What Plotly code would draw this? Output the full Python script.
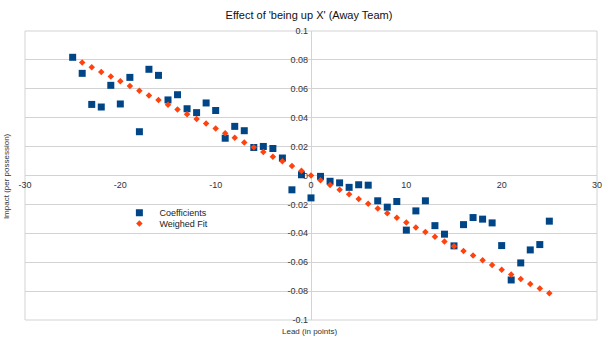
import plotly.graph_objects as go

# Lead (points) and fitted coefficient for each lead value
lead = list(range(-25, 26))
coefficients = [
    0.0818, 0.0707, 0.0492, 0.0474, 0.0624, 0.0495, 0.0679, 0.0303, 0.0735, 0.0693,
    0.0523, 0.0559, 0.0462, 0.0435, 0.0502, 0.0450, 0.0258, 0.0340, 0.0310, 0.0194,
    0.0201, 0.0187, 0.0121, -0.0099, 0.0005, -0.0155, -0.0006, -0.0040, -0.0051, -0.0082,
    -0.0064, -0.0067, -0.0175, -0.0219, -0.0180, -0.0378, -0.0245, -0.0175, -0.0347, -0.0406,
    -0.0487, -0.0340, -0.0291, -0.0302, -0.0328, -0.0485, -0.0723, -0.0605, -0.0515, -0.0478,
    -0.0316,
]

fit_lead = list(range(-24, 26))
weighed_fit = [
    0.0782, 0.0750, 0.0717, 0.0685, 0.0652, 0.0619, 0.0587, 0.0554, 0.0522, 0.0489,
    0.0456, 0.0424, 0.0391, 0.0359, 0.0326, 0.0293, 0.0261, 0.0228, 0.0196, 0.0163,
    0.0130, 0.0098, 0.0065, 0.0033, 0.0000, -0.0033, -0.0065, -0.0098, -0.0130, -0.0163,
    -0.0196, -0.0228, -0.0261, -0.0293, -0.0326, -0.0359, -0.0391, -0.0424, -0.0456, -0.0489,
    -0.0522, -0.0554, -0.0587, -0.0619, -0.0652, -0.0685, -0.0717, -0.0750, -0.0782, -0.0815,
]

x_ticks = [-30, -20, -10, 0, 10, 20, 30]
x_tick_labels = ["-30", "-20", "-10", "0", "10", "20", "30"]
y_ticks = [0.1, 0.08, 0.06, 0.04, 0.02, 0, -0.02, -0.04, -0.06, -0.08, -0.1]
y_tick_labels = ["0.1", "0.08", "0.06", "0.04", "0.02", "0",
                 "-0.02", "-0.04", "-0.06", "-0.08", "-0.1"]

FONT = "Liberation Sans, Arial, sans-serif"
GRID = "#d3d3d3"
BLUE = "#004586"
ORANGE = "#ff420e"

fig = go.Figure()
fig.add_trace(go.Scatter(
    x=lead, y=coefficients, mode="markers", name="Coefficients",
    marker=dict(symbol="square", size=7, color=BLUE),
    legend="legend",
))
fig.add_trace(go.Scatter(
    x=fit_lead, y=weighed_fit, mode="markers", name="Weighed Fit",
    marker=dict(symbol="diamond", size=5, color=ORANGE),
    legend="legend2",
))

legend_style = dict(
    font=dict(family=FONT, size=9, color="#222"),
    bgcolor="rgba(0,0,0,0)", borderwidth=0,
    xanchor="left", yanchor="middle", itemwidth=30,
)

fig.update_layout(
    width=614, height=337, autosize=False,
    margin=dict(l=25, r=14, t=31, b=17, pad=0),
    paper_bgcolor="white", plot_bgcolor="white",
    font=dict(family=FONT, size=9, color="#333"),
    title=dict(
        text="Effect of 'being up X' (Away Team)",
        x=309 / 614, xanchor="center", xref="container",
        y=1 - 15 / 337, yanchor="middle", yref="container",
        font=dict(family=FONT, size=11, color="#111"),
    ),
    xaxis=dict(
        range=[-30, 30], tickvals=x_ticks, ticktext=x_tick_labels,
        anchor="free", position=0.5, showgrid=False,
        zeroline=True, zerolinecolor=GRID, zerolinewidth=1,
        showline=False, ticks="", ticklabelstandoff=2,
        tickfont=dict(size=9, color="#333"),
    ),
    yaxis=dict(
        range=[-0.1, 0.1], tickvals=y_ticks, ticktext=y_tick_labels,
        anchor="free", position=0.5, showgrid=True, gridcolor=GRID, gridwidth=1,
        zeroline=True, zerolinecolor=GRID, zerolinewidth=1,
        showline=False, ticks="", ticklabelstandoff=3,
        tickfont=dict(size=9, color="#333"),
    ),
    legend=dict(x=0.165, y=(320 - 212.7) / 289, **legend_style),
    legend2=dict(x=0.165, y=(320 - 223.5) / 289, **legend_style),
    shapes=[dict(type="rect", xref="paper", yref="paper", x0=0, x1=1, y0=0, y1=1,
                 line=dict(color=GRID, width=1), layer="below")],
    annotations=[
        dict(text="Impact (per possession)", xref="paper", yref="paper",
             x=(6 - 25) / 575, y=(320 - 176) / 289, textangle=-90,
             showarrow=False, xanchor="center", yanchor="middle",
             font=dict(family=FONT, size=8, color="#333")),
        dict(text="Lead (in points)", xref="paper", yref="paper",
             x=(311 - 25) / 575, y=(320 - 331) / 289,
             showarrow=False, xanchor="center", yanchor="middle",
             font=dict(family=FONT, size=8, color="#333")),
    ],
    showlegend=True,
)

fig.write_html("out.html", config={"displayModeBar": False})
